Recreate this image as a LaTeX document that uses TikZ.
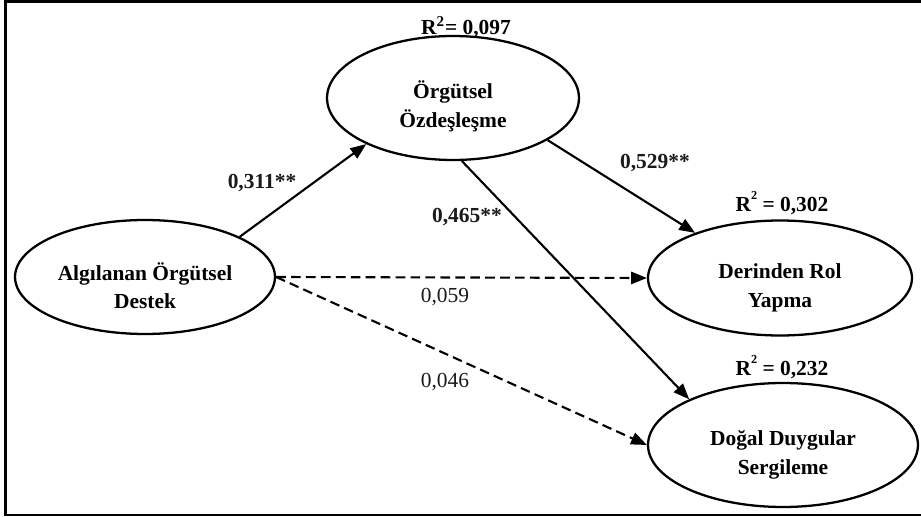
\documentclass[tikz,border=0pt]{standalone}
\usepackage{fontspec}
\setmainfont{Liberation Serif}
\usetikzlibrary{shapes.geometric,arrows.meta}
\usepackage{xcolor}
\definecolor{pathInk}{RGB}{0,0,0}
\definecolor{pathText}{RGB}{26,26,26}

\begin{document}
\begin{tikzpicture}[x=0.02cm, y=-0.02cm,
    latent/.style={ellipse, draw=pathInk, line width=1.3pt, inner sep=0pt,
      align=center, text height=36pt,
      font=\fontsize{12.2}{16.2}\selectfont\bfseries},
    path/.style={line width=1.2pt, draw=pathInk,
      -{Triangle[length=9pt, width=7pt]}},
    weak/.style={path, dash pattern=on 5.5pt off 3pt},
    coef/.style={font=\fontsize{12.2}{13}\selectfont\bfseries, text=pathText},
    coefns/.style={font=\fontsize{12.2}{13}\selectfont, text=pathText},
    rsq/.style={font=\fontsize{12.2}{13}\selectfont\bfseries}]
  \useasboundingbox (0,0) rectangle (921,517);
  \draw[line width=1.7pt] (5.5,1.5) rectangle (940,515);

  % constructs
  \node[latent, minimum width=5.2cm, minimum height=2.28cm] (ald) at (145,277)
    {Algılanan Örgütsel\\Destek};
  \node[latent, minimum width=5.04cm, minimum height=2.48cm] (org) at (453,98)
    {Örgütsel\\Özdeşleşme};
  \node[latent, minimum width=5.28cm, minimum height=2.3cm] (drp) at (780,278)
    {Derinden Rol\\Yapma};
  \node[latent, minimum width=5.4cm, minimum height=2.48cm] (ddg) at (783,445)
    {Doğal Duygular\\Sergileme};

  % explained variance
  \node[rsq] (rorg) at (466,27) {R\textsuperscript{2}= 0,097};
  \node[rsq] (rdrp) at (782,203) {R\raisebox{1.2ex}{\scriptsize 2} = 0,302};
  \node[rsq] (rddg) at (782,367) {R\raisebox{1.2ex}{\scriptsize 2} = 0,232};

  % paths
  \draw[path] (ald.23) -- (org.208);
  \draw[path] (org.336) -- (drp.152);
  \draw[path] (org.-82) -- (ddg.154);
  \draw[weak] (ald.east) -- (drp.west);
  \draw[weak] (ald.east) -- (ddg.west);

  % coefficients
  \node[coef] (c1) at (262,183) {0,311**};
  \node[coef] (c2) at (467,217) {0,465**};
  \node[coef] (c3) at (655,163) {0,529**};
  \node[coefns] (c4) at (445,297) {0,059};
  \node[coefns] (c5) at (445,382) {0,046};
\end{tikzpicture}
\end{document}
